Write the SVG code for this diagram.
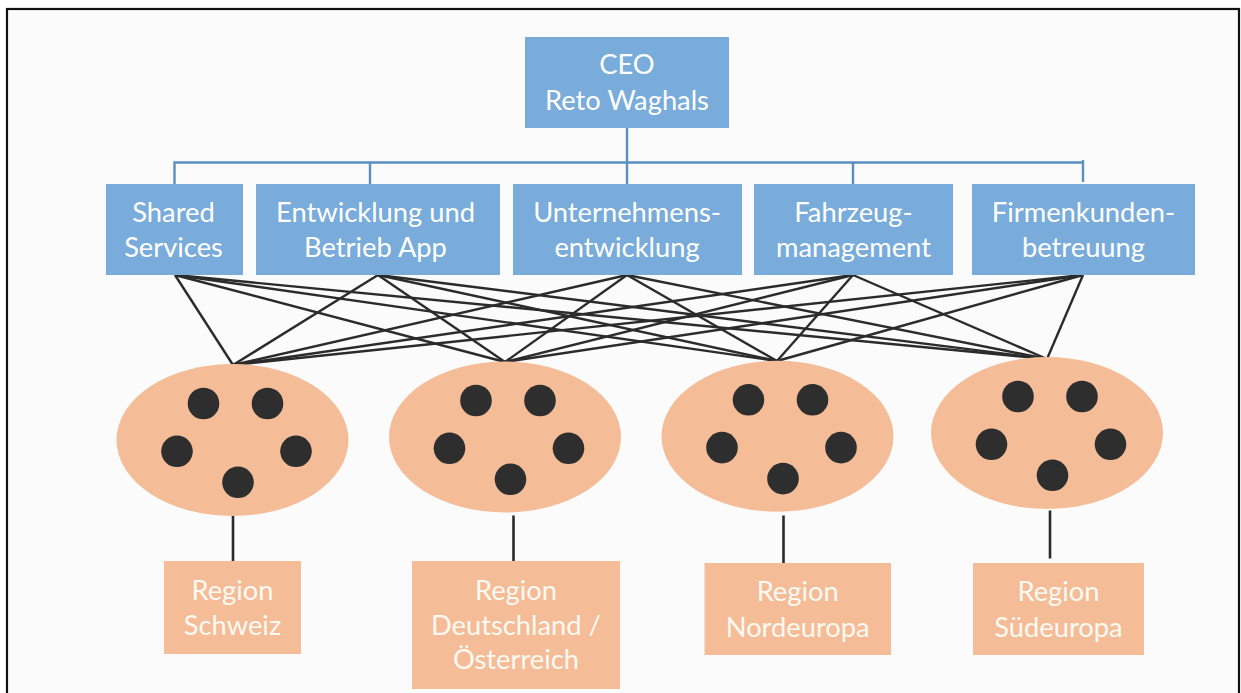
<svg xmlns="http://www.w3.org/2000/svg" width="1241" height="693" viewBox="0 0 1241 693">
  <style>
    .frame { fill: #fbfbfb; stroke: #111111; stroke-width: 2.2; }
    .unit { fill: #79acda; }
    .unit-text { font-family: Lato, "Liberation Sans", sans-serif; font-size: 27.3px; fill: #ffffff; text-anchor: middle; }
    .tree { fill: none; stroke: #5b8fc4; stroke-width: 2.4; }
    .mesh { stroke: #2b2b2b; stroke-width: 2.4; fill: none; }
    .stem { stroke: #2b2b2b; stroke-width: 2.6; fill: none; }
    .cluster { fill: #f4bd98; }
    .member { fill: #2e2e2e; }
    .region { fill: #f4bd98; }
    .region-text { font-family: Lato, "Liberation Sans", sans-serif; font-size: 27.3px; fill: #fff9f3; text-anchor: middle; }
  </style>
  <defs>
    <!-- five team members arranged inside a regional cluster, centred on 0,0 -->
    <g id="members">
      <circle class="member" cx="-29" cy="-36.5" r="15.8"/>
      <circle class="member" cx="35" cy="-36.5" r="15.8"/>
      <circle class="member" cx="-55.5" cy="11.3" r="15.8"/>
      <circle class="member" cx="63.5" cy="11.3" r="15.8"/>
      <circle class="member" cx="5.5" cy="42.3" r="15.8"/>
    </g>
  </defs>

  <rect width="1241" height="693" fill="#ffffff"/>
  <rect class="frame" x="7" y="9" width="1232" height="700"/>

  <!-- connectors -->
  <g id="connectors">
    <!-- reporting lines from CEO to the functional units -->
    <path class="tree" d="M627 127 V162.5 M174.5 184 V162.5 H1083 M370 162.5 V184 M627 162.5 V184 M853 162.5 V184 M1083 160 V182"/>
    <!-- every functional unit serves every region -->
    <g class="mesh">
      <line x1="175" y1="275" x2="233" y2="365"/>
      <line x1="175" y1="275" x2="505" y2="362"/>
      <line x1="175" y1="275" x2="777" y2="361"/>
      <line x1="175" y1="275" x2="1047" y2="359"/>
      <line x1="378" y1="275" x2="233" y2="365"/>
      <line x1="378" y1="275" x2="505" y2="362"/>
      <line x1="378" y1="275" x2="777" y2="361"/>
      <line x1="378" y1="275" x2="1047" y2="359"/>
      <line x1="627" y1="275" x2="233" y2="365"/>
      <line x1="627" y1="275" x2="505" y2="362"/>
      <line x1="627" y1="275" x2="777" y2="361"/>
      <line x1="627" y1="275" x2="1047" y2="359"/>
      <line x1="853" y1="275" x2="233" y2="365"/>
      <line x1="853" y1="275" x2="505" y2="362"/>
      <line x1="853" y1="275" x2="777" y2="361"/>
      <line x1="853" y1="275" x2="1047" y2="359"/>
      <line x1="1083" y1="275" x2="233" y2="365"/>
      <line x1="1083" y1="275" x2="505" y2="362"/>
      <line x1="1083" y1="275" x2="777" y2="361"/>
      <line x1="1083" y1="275" x2="1047" y2="359"/>
    </g>
    <!-- clusters to their region boxes -->
    <line class="stem" x1="233" y1="514" x2="233" y2="562"/>
    <line class="stem" x1="513.5" y1="515.5" x2="513.5" y2="563"/>
    <line class="stem" x1="783.5" y1="515.5" x2="783.5" y2="563"/>
    <line class="stem" x1="1050" y1="510.5" x2="1050" y2="558.5"/>
  </g>

  <!-- management -->
  <g id="ceo">
    <rect class="unit" x="525" y="37" width="204" height="91"/>
    <text class="unit-text" x="627" y="73.5">CEO</text>
    <text class="unit-text" x="627" y="109.5">Reto Waghals</text>
  </g>

  <!-- functional units -->
  <g id="shared-services">
    <rect class="unit" x="106" y="184" width="137" height="91"/>
    <text class="unit-text" x="173.5" y="221.5">Shared</text>
    <text class="unit-text" x="173.5" y="256.5">Services</text>
  </g>
  <g id="app">
    <rect class="unit" x="256" y="184" width="244" height="91"/>
    <text class="unit-text" x="375.5" y="221.5">Entwicklung und</text>
    <text class="unit-text" x="375.5" y="256.5">Betrieb App</text>
  </g>
  <g id="corporate-development">
    <rect class="unit" x="513" y="184" width="229" height="91"/>
    <text class="unit-text" x="627" y="221.5">Unternehmens-</text>
    <text class="unit-text" x="627" y="256.5">entwicklung</text>
  </g>
  <g id="fleet">
    <rect class="unit" x="754" y="184" width="199" height="91"/>
    <text class="unit-text" x="853.5" y="221.5">Fahrzeug-</text>
    <text class="unit-text" x="853.5" y="256.5">management</text>
  </g>
  <g id="business-customers">
    <rect class="unit" x="972" y="184" width="223" height="91"/>
    <text class="unit-text" x="1083.5" y="221.5">Firmenkunden-</text>
    <text class="unit-text" x="1083.5" y="256.5">betreuung</text>
  </g>

  <!-- regional clusters -->
  <g id="cluster-ch">
    <ellipse class="cluster" cx="232.5" cy="440" rx="116" ry="76"/>
    <use href="#members" x="232.5" y="440"/>
  </g>
  <g id="cluster-dach">
    <ellipse class="cluster" cx="505" cy="437" rx="116" ry="75.5"/>
    <use href="#members" x="505" y="437"/>
  </g>
  <g id="cluster-north">
    <ellipse class="cluster" cx="777.5" cy="436.3" rx="116" ry="75.5"/>
    <use href="#members" x="777.5" y="436.3"/>
  </g>
  <g id="cluster-south">
    <ellipse class="cluster" cx="1047" cy="433" rx="116" ry="76"/>
    <use href="#members" x="1047" y="433"/>
  </g>

  <!-- regions -->
  <g id="region-ch">
    <rect class="region" x="164" y="561" width="137" height="93"/>
    <text class="region-text" x="232.5" y="600">Region</text>
    <text class="region-text" x="232.5" y="635">Schweiz</text>
  </g>
  <g id="region-dach">
    <rect class="region" x="412" y="561" width="208" height="128"/>
    <text class="region-text" x="516" y="600">Region</text>
    <text class="region-text" x="516" y="635">Deutschland /</text>
    <text class="region-text" x="516" y="669">Österreich</text>
  </g>
  <g id="region-north">
    <rect class="region" x="704.5" y="563" width="186.5" height="92"/>
    <text class="region-text" x="797.7" y="600.7">Region</text>
    <text class="region-text" x="797.7" y="636.5">Nordeuropa</text>
  </g>
  <g id="region-south">
    <rect class="region" x="973" y="563" width="171" height="92"/>
    <text class="region-text" x="1058.5" y="600.7">Region</text>
    <text class="region-text" x="1058.5" y="636.5">Südeuropa</text>
  </g>
</svg>
